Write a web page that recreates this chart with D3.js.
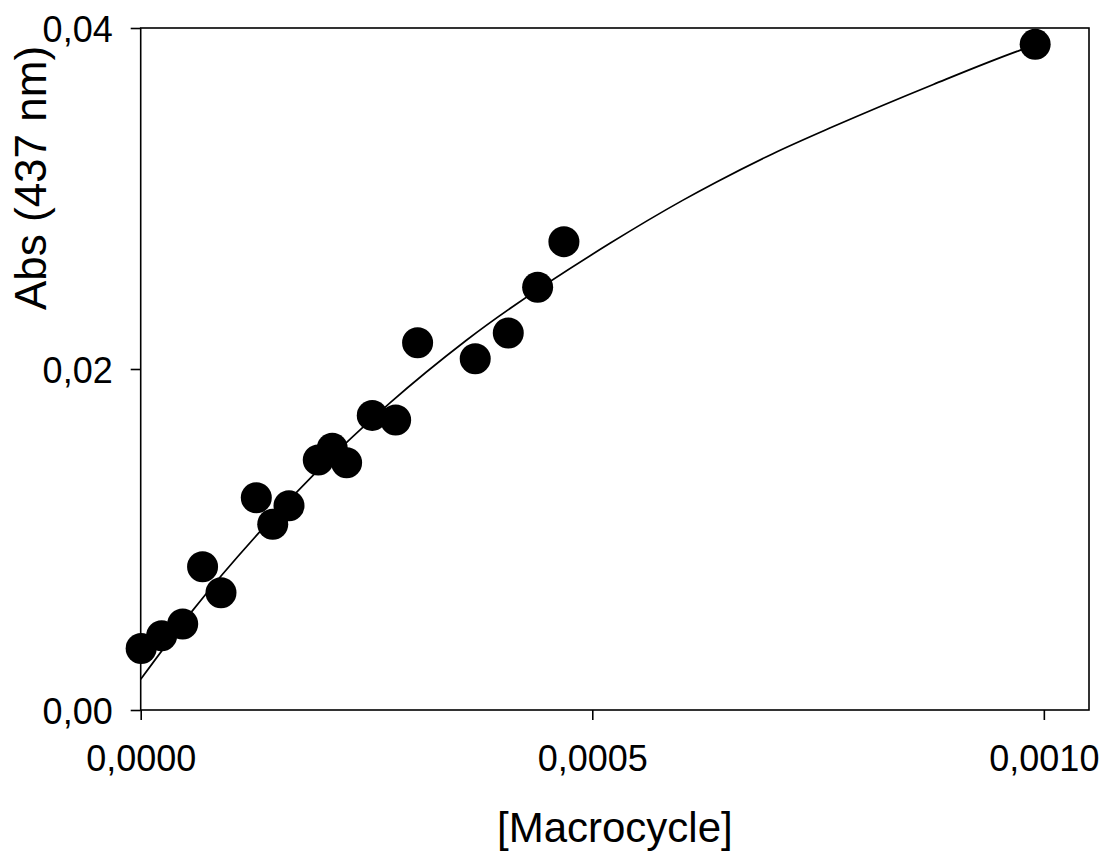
<!DOCTYPE html>
<html>
<head>
<meta charset="utf-8">
<script src="https://cdnjs.cloudflare.com/ajax/libs/d3/7.8.5/d3.min.js"></script>
<style>
  body { margin: 0; background: #fff; }
  text { font-family: "Liberation Sans", Arial, sans-serif; fill: #000; }
</style>
</head>
<body>
<div id="chart"></div>
<script>
// measured points
var conc = [0.0000005, 0.0000232, 0.0000465, 0.0000685, 0.0000889, 0.0001280, 0.0001462, 0.0001642,
            0.0001966, 0.0002121, 0.0002280, 0.0002564, 0.0002823, 0.0003066, 0.0003704, 0.0004070,
            0.0004395, 0.0004686, 0.0009904];
var absorb = [0.00361, 0.00435, 0.00504, 0.00840, 0.00688, 0.01245, 0.01089, 0.01198,
              0.01466, 0.01535, 0.01450, 0.01728, 0.01701, 0.02154, 0.02060, 0.02211,
              0.02479, 0.02747, 0.03904];

// fitted curve
var fitX = [0.0000000, 0.0000565, 0.0001320, 0.0001911, 0.0002760, 0.0003610, 0.0005196,
            0.0006000, 0.0006377, 0.0007000, 0.0007669, 0.0008776, 0.0009734, 0.0009900];
var fitY = [0.00180, 0.00577, 0.01046, 0.01378, 0.01801, 0.02170, 0.02737,
            0.02989, 0.03097, 0.03263, 0.03422, 0.03669, 0.03869, 0.03900];

var xTicks = [0, 0.0005, 0.0010];
var yTicks = [0, 0.02, 0.04];

var width = 1104, height = 852;
var plotLeft = 140.7, plotRight = 1089, plotTop = 28, plotBottom = 710;

var svg = d3.select("#chart").append("svg")
    .attr("width", width)
    .attr("height", height);

var x = d3.scaleLinear().domain([0, 0.00105]).range([plotLeft, plotRight]);
var y = d3.scaleLinear().domain([0, 0.04]).range([plotBottom, plotTop]);

var fmtX = function(d) { return d3.format(".4f")(d).replace(".", ","); };
var fmtY = function(d) { return d3.format(".2f")(d).replace(".", ","); };

// frame
svg.append("rect")
    .attr("x", plotLeft).attr("y", plotTop)
    .attr("width", plotRight - plotLeft).attr("height", plotBottom - plotTop)
    .attr("fill", "none").attr("stroke", "#000").attr("stroke-width", 1.6);

var xAxis = svg.append("g")
    .attr("transform", "translate(0," + plotBottom + ")")
    .call(d3.axisBottom(x).tickValues(xTicks).tickSize(10).tickPadding(25).tickFormat(fmtX));
xAxis.select(".domain").remove();
xAxis.selectAll("line").attr("stroke-width", 1.6);
xAxis.selectAll("text").style("font-size", "36px").style("font-family", "Liberation Sans, Arial, sans-serif");

var yAxis = svg.append("g")
    .attr("transform", "translate(" + plotLeft + ",0)")
    .call(d3.axisLeft(y).tickValues(yTicks).tickSize(10).tickPadding(18).tickFormat(fmtY));
yAxis.select(".domain").remove();
yAxis.selectAll("line").attr("stroke-width", 1.6);
yAxis.selectAll("text").style("font-size", "36px").style("font-family", "Liberation Sans, Arial, sans-serif")
    .attr("dy", "0.38em");

// fit line
var line = d3.line()
    .x(function(d, i) { return x(fitX[i]); })
    .y(function(d, i) { return y(fitY[i]); })
    .curve(d3.curveMonotoneX);

svg.append("path")
    .attr("d", line(fitX))
    .attr("fill", "none")
    .attr("stroke", "#000")
    .attr("stroke-width", 1.7);

// points
svg.selectAll("circle.pt").data(conc).enter().append("circle")
    .attr("class", "pt")
    .attr("cx", function(d) { return x(d); })
    .attr("cy", function(d, i) { return y(absorb[i]); })
    .attr("r", 15.5)
    .attr("fill", "#000");

// axis titles
svg.append("text")
    .attr("x", (plotLeft + plotRight) / 2)
    .attr("y", 842)
    .attr("text-anchor", "middle")
    .style("font-size", "42px")
    .text("[Macrocycle]");

svg.append("text")
    .attr("transform", "translate(46,178) rotate(-90)")
    .attr("text-anchor", "middle")
    .style("font-size", "44px")
    .text("Abs (437 nm)");
</script>
</body>
</html>
